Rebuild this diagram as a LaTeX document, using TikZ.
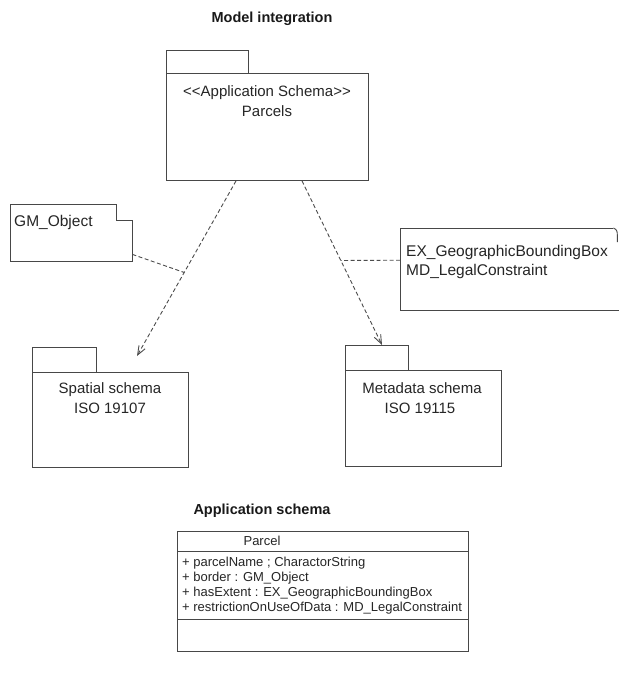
\documentclass[tikz,border=0pt]{standalone}
\usepackage{fontspec}
\setmainfont{Liberation Sans}
\usetikzlibrary{arrows.meta,calc}

\tikzset{
  ink/.style={draw=black!72, line width=0.9pt},
  pkgtab/.style={ink, rectangle, inner sep=0pt, anchor=north west},
  pkgbody/.style={ink, rectangle, inner sep=0pt, anchor=north west},
  notearea/.style={rectangle, inner sep=0pt, anchor=north west},
  pkgtext/.style={font=\fontsize{15}{18}\selectfont, anchor=base, inner sep=0pt, text=black!85},
  notetext/.style={font=\fontsize{15.5}{20}\selectfont, anchor=base west, inner sep=0pt, text=black!85},
  heading/.style={font=\bfseries\fontsize{14.5}{17}\selectfont, anchor=base, inner sep=0pt, text=black!90},
  attr/.style={font=\fontsize{13}{15}\selectfont, anchor=base west, inner sep=0pt, text=black!85},
  dep/.style={draw=black!70, line width=0.9pt, dash pattern=on 4pt off 2.5pt,
              -{Straight Barb[length=9pt,width=7pt,line width=0.9pt]}},
  link/.style={draw=black!70, line width=0.9pt, dash pattern=on 4pt off 2.5pt}
}

\begin{document}
\begin{tikzpicture}[x=1pt,y=-1pt]
\useasboundingbox[fill=white] (0,0) rectangle (620,674);

% ---------- Model integration ----------
\node[heading] (title1) at (272,23) {Model integration};

% package: Parcels
\node[pkgtab, minimum width=82pt, minimum height=23pt] (parcelstab) at (166,50) {};
\node[pkgbody, minimum width=202pt, minimum height=107pt] (parcels) at (166,73) {};
\node[pkgtext] (parcelsst) at (267,96.5) {<\kern0pt<Application Schema>\kern0pt>};
\node[pkgtext] (parcelsnm) at (267,117) {Parcels};

% package: Spatial schema
\node[pkgtab, minimum width=64pt, minimum height=25pt] (spatialtab) at (32,347) {};
\node[pkgbody, minimum width=156pt, minimum height=95pt] (spatial) at (32,372) {};
\node[pkgtext] (spatialnm) at (110,393.5) {Spatial schema};
\node[pkgtext] (spatialiso) at (110,413.5) {ISO 19107};

% package: Metadata schema
\node[pkgtab, minimum width=63pt, minimum height=25pt] (metatab) at (345,345) {};
\node[pkgbody, minimum width=156pt, minimum height=96pt] (meta) at (345,370) {};
\node[pkgtext] (metanm) at (422,393.5) {Metadata schema};
\node[pkgtext] (metaiso) at (420,413.5) {ISO 19115};

% note: GM_Object
\node[notearea, minimum width=122pt, minimum height=57pt] (gmnote) at (10,204) {};
\draw[ink] (gmnote.north west) -- ($(gmnote.north east)+(-16,0)$) -- ($(gmnote.north east)+(-16,16)$)
           -- ($(gmnote.north east)+(0,16)$) -- (gmnote.south east) -- (gmnote.south west) -- cycle;
\node[notetext] (gmtext) at (14,226) {GM\_Object};

% note: EX_GeographicBoundingBox / MD_LegalConstraint
\node[notearea, minimum width=219pt, minimum height=82pt] (exnote) at (400,228) {};
\draw[ink] ($(exnote.north east)+(-6,0)$) -- (exnote.north west) -- (exnote.south west) -- (exnote.south east);
\draw[ink] ($(exnote.north east)+(-6,0)$) .. controls ($(exnote.north east)+(-2,2)$) .. ($(exnote.north east)+(-2,14)$);
\node[notetext] (extext1) at (406,256) {EX\_GeographicBoundingBox};
\node[notetext] (extext2) at (406,275) {MD\_LegalConstraint};

% dependencies
\coordinate (d1s) at ($(parcels.south west)+(70,0)$);
\coordinate (d1e) at ($(spatial.north west)+(105,-16)$);
\coordinate (d2s) at ($(parcels.south west)+(136,0)$);
\coordinate (d2e) at ($(metatab.north west)+(37,0)$);
\draw[dep] (d1s) -- (d1e);
\draw[dep] (d2s) -- (d2e);
\coordinate (j1) at ($(d1s)!0.523!(d1e)$);
\coordinate (j2) at ($(d2s)!0.485!(d2e)$);
\draw[link] ($(gmnote.south east)+(0,-7)$) -- (j1);
\draw[link] ($(exnote.west)+(0,-9)$) -- (j2);

% ---------- Application schema ----------
\node[heading] (title2) at (262,514) {Application schema};

\node[pkgbody, minimum width=291pt, minimum height=120pt] (parcel) at (177,531) {};
\draw[ink] ($(parcel.north west)+(0,20)$) -- ($(parcel.north east)+(0,20)$);
\draw[ink] ($(parcel.north west)+(0,88)$) -- ($(parcel.north east)+(0,88)$);
\node[font=\fontsize{13}{15}\selectfont, anchor=base, inner sep=0pt, text=black!85] (parcelname) at (262,545) {Parcel};
\node[attr] (a1) at (182,566.5) {+ parcelName ; CharactorString};
\node[attr] (a2) at (182,581.5) {+ border : GM\_Object};
\node[attr] (a3) at (182,596.5) {+ hasExtent : EX\_GeographicBoundingBox};
\node[attr] (a4) at (182,611.5) {+ restrictionOnUseOfData : MD\_LegalConstraint};
\end{tikzpicture}
\end{document}
